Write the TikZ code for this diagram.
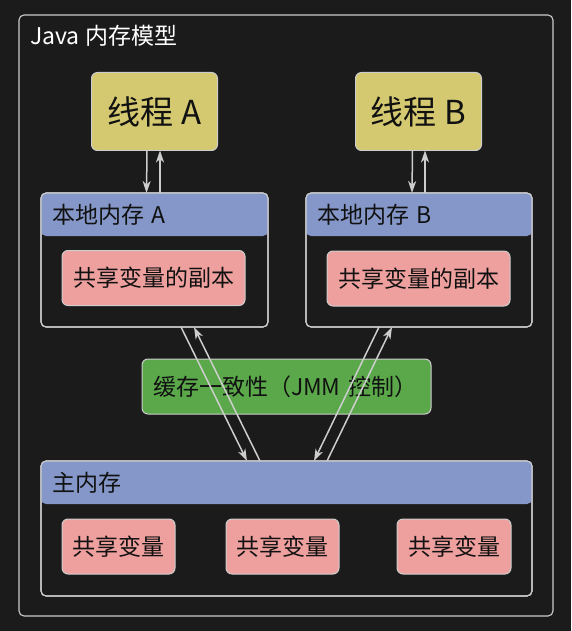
\documentclass[tikz,border=0pt]{standalone}
\usepackage{fontspec}
\setmainfont{Noto Sans CJK SC}
\usetikzlibrary{arrows.meta}
\definecolor{bg}{RGB}{27,27,27}
\definecolor{edge}{RGB}{205,205,205}
\definecolor{thr}{RGB}{212,201,112}
\definecolor{hdrc}{RGB}{132,151,200}
\definecolor{salmon}{RGB}{238,160,158}
\definecolor{grn}{RGB}{90,168,74}
\definecolor{ink}{RGB}{17,17,17}
\tikzset{
  frame/.style={draw=edge, line width=1.1pt, rounded corners=5pt, inner sep=0pt, outer sep=0pt},
  thread/.style={draw=edge, line width=1pt, fill=thr, rounded corners=6pt, inner sep=0pt, outer sep=0pt,
    minimum width=126pt, minimum height=78pt, text=ink, font=\fontsize{33}{38}\selectfont},
  hdr/.style={fill=hdrc, rounded corners=5pt, inner xsep=11pt, inner ysep=0pt, outer sep=0pt,
    align=left, text=ink, font=\fontsize{23}{27}\selectfont, anchor=north west},
  var/.style={draw=edge, line width=1pt, fill=salmon, rounded corners=6pt, inner sep=0pt, outer sep=0pt,
    minimum height=55pt, text=ink, font=\fontsize{23}{27}\selectfont},
  sync/.style={draw=edge, line width=1pt, fill=grn, rounded corners=6pt, inner xsep=11pt, inner ysep=0pt,
    outer sep=0pt, minimum height=55pt, text width=267pt, align=left, text=ink,
    font=\fontsize{23}{27}\selectfont},
  arr/.style={draw=edge, line width=1.5pt, -{Stealth[length=12pt,width=8pt,inset=3.5pt]}},
}
\begin{document}
\begin{tikzpicture}[x=1pt,y=-1pt]
\useasboundingbox[fill=bg] (0,0) rectangle (571,631);
% outer frame
\node[frame, minimum width=534pt, minimum height=601pt] (outer) at (286,315.5) {};
\node[anchor=west, text=white, font=\fontsize{23}{27}\selectfont, inner sep=0pt] (title) at (30,36) {Java 内存模型};
% threads
\node[thread] (ta) at (154.5,111.5) {线程 A};
\node[thread] (tb) at (418.5,111.5) {线程 B};
% local memory A
\node[frame, fill=bg, minimum width=227pt, minimum height=134pt] (locA) at (154.5,260) {};
\node[hdr, text width=205pt, minimum height=43pt] (hA) at (locA.north west) {本地内存 A};
\node[frame, minimum width=227pt, minimum height=134pt] at (locA) {};
\node[var, minimum width=183pt] (copyA) at (153.5,278) {共享变量的副本};
% local memory B
\node[frame, fill=bg, minimum width=226pt, minimum height=134pt] (locB) at (419,260) {};
\node[hdr, text width=204pt, minimum height=43pt] (hB) at (locB.north west) {本地内存 B};
\node[frame, minimum width=226pt, minimum height=134pt] at (locB) {};
\node[var, minimum width=183pt] (copyB) at (418.5,278.5) {共享变量的副本};
% cache coherence
\node[sync] (sync) at (286.5,386.5) {缓存一致性（JMM 控制）};
% main memory
\node[frame, fill=bg, minimum width=491pt, minimum height=135pt] (main) at (286.5,528.5) {};
\node[hdr, text width=469pt, minimum height=43pt] (hM) at (main.north west) {主内存};
\node[frame, minimum width=491pt, minimum height=135pt] at (main) {};
\node[var, minimum width=113pt] (v1) at (118.5,546.5) {共享变量};
\node[var, minimum width=113pt] (v2) at (282.5,546.5) {共享变量};
\node[var, minimum width=114pt] (v3) at (454,546.5) {共享变量};
% arrows thread <-> local
\draw[arr] ([xshift=-7.5pt]ta.south) -- ([xshift=-8pt]locA.north);
\draw[arr] ([xshift=5.5pt]locA.north) -- ([xshift=5.5pt]ta.south);
\draw[arr] ([xshift=-6pt]tb.south) -- ([xshift=-7pt]locB.north);
\draw[arr] ([xshift=6pt]locB.north) -- ([xshift=6.5pt]tb.south);
% arrows local <-> main
\draw[arr] ([xshift=26.5pt]locA.south) -- ([xshift=-39.5pt]main.north);
\draw[arr] ([xshift=-26.5pt]main.north) -- ([xshift=39.5pt]locA.south);
\draw[arr] ([xshift=-40pt]locB.south) -- ([xshift=27.5pt]main.north);
\draw[arr] ([xshift=40.5pt]main.north) -- ([xshift=-27pt]locB.south);
\end{tikzpicture}
\end{document}
